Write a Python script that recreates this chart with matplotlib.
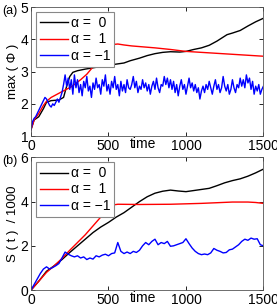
import matplotlib
matplotlib.use('Agg')
import matplotlib.pyplot as plt
import numpy as np

plt.rcParams['font.family'] = ['Liberation Sans', 'DejaVu Sans']
plt.rcParams['font.size'] = 10

# ---- panel (a): max(Phi) ----
t_a_black = [0, 20, 50, 80, 100, 130, 180, 210, 230, 250, 270, 300, 350, 400,
             500, 600, 640, 700, 750, 800, 850, 900, 960, 1000, 1050, 1100,
             1150, 1200, 1265, 1300, 1350, 1400, 1450, 1500]
a_black = [1.2, 1.5, 1.6, 1.85, 2.05, 2.1, 2.12, 2.2, 2.55, 2.85, 2.98, 3.03,
           3.08, 3.12, 3.2, 3.27, 3.34, 3.42, 3.5, 3.56, 3.6, 3.62, 3.61, 3.63,
           3.69, 3.74, 3.82, 3.95, 4.15, 4.2, 4.28, 4.42, 4.55, 4.66]

t_a_red = [0, 20, 50, 80, 100, 130, 200, 260, 320, 360, 400, 440, 480, 520,
           560, 600, 650, 700, 800, 900, 1000, 1100, 1200, 1300, 1400, 1500]
a_red = [1.2, 1.5, 1.7, 1.95, 2.08, 2.2, 2.38, 2.53, 2.75, 2.92, 3.15, 3.42,
         3.72, 3.84, 3.86, 3.83, 3.8, 3.78, 3.74, 3.69, 3.63, 3.6, 3.57, 3.54,
         3.51, 3.48]

t_a_blue = list(range(0, 1501, 10))
a_blue = [1.2, 1.45, 1.55, 1.6, 1.7, 1.8, 1.9, 2.0, 2.1, 2.2,
          2.15, 2.05, 1.95, 1.9, 2.0, 1.95, 2.05, 2.15, 2.05, 2.2,
          2.35, 2.6, 2.9, 2.55, 2.8, 2.45, 2.75, 2.3, 2.9, 2.5,
          2.75, 2.35, 2.6, 2.25, 2.7, 2.5, 2.85, 2.4, 2.55, 2.2,
          2.65, 2.45, 2.8, 2.5, 2.6, 2.3, 2.75, 2.55, 2.9, 2.4,
          2.6, 2.3, 2.7, 2.5, 2.85, 2.45, 2.6, 2.25, 2.7, 2.4,
          2.6, 2.35, 2.75, 2.5, 2.45, 2.6, 2.85, 2.5, 2.7, 2.35,
          2.55, 2.45, 2.75, 2.5, 2.65, 2.4, 2.6, 2.3, 2.55, 2.7,
          2.45, 2.8, 2.5, 2.35, 2.6, 2.55, 2.85, 2.6, 2.8, 2.5,
          2.75, 2.45, 2.7, 2.35, 2.6, 2.25, 2.55, 2.75, 2.45, 2.6,
          2.3, 2.55, 2.8, 2.5, 2.65, 2.4, 2.6, 2.35, 2.5, 2.15,
          2.4, 2.55, 2.35, 2.6, 2.45, 2.7, 2.5, 2.3, 2.55, 2.75,
          2.45, 2.6, 2.35, 2.5, 2.85, 2.55, 2.4, 2.6, 2.3, 2.45,
          2.75, 2.5, 2.35, 2.6, 2.5, 2.8, 2.55, 2.75, 2.5, 2.9,
          2.65, 2.8, 2.45, 2.7, 2.3, 2.55, 2.4, 2.6, 2.3, 2.45,
          2.55]

# ---- panel (b): S(t)/1000 ----
t_b_black = [0, 50, 100, 150, 200, 250, 300, 350, 400, 450, 500, 550, 600,
             650, 700, 750, 800, 850, 900, 950, 1000, 1050, 1100, 1150, 1200,
             1250, 1300, 1350, 1400, 1450, 1500]
b_black = [0.0, 0.4, 0.85, 1.1, 1.38, 1.7, 2.0, 2.3, 2.6, 2.85, 3.06, 3.3,
           3.5, 3.75, 4.0, 4.22, 4.38, 4.47, 4.52, 4.48, 4.45, 4.5, 4.55, 4.6,
           4.72, 4.85, 4.95, 5.03, 5.15, 5.3, 5.47]

t_b_red = [0, 50, 100, 150, 200, 250, 300, 350, 400, 450, 500, 530, 560, 700,
           900, 1000, 1100, 1200, 1300, 1400, 1450, 1500]
b_red = [0.0, 0.4, 0.8, 1.1, 1.43, 1.8, 2.15, 2.5, 2.9, 3.3, 3.7, 3.85, 3.88,
         3.87, 3.88, 3.9, 3.92, 3.95, 3.98, 3.98, 3.96, 3.92]

t_b_blue = list(range(0, 1501, 20))
b_blue = [0.0, 0.25, 0.5, 0.75, 0.95, 1.05, 0.95, 1.02, 1.1, 1.2,
          1.45, 1.72, 1.62, 1.55, 1.5, 1.55, 1.45, 1.5, 1.38, 1.45,
          1.4, 1.55, 1.5, 1.58, 1.62, 1.55, 1.65, 1.68, 2.15, 1.75,
          1.65, 1.72, 1.65, 1.75, 1.7, 1.8, 2.0, 2.15, 2.05, 2.2,
          2.3, 2.05, 2.15, 2.1, 2.2, 1.98, 2.0, 2.05, 2.1, 2.15,
          2.32, 2.1, 1.9, 1.75, 1.65, 1.6, 1.63, 1.6, 1.68, 1.88,
          1.8, 1.75, 1.68, 1.7, 1.82, 1.85, 1.95, 2.05, 2.2, 2.3,
          2.25, 2.35, 2.3, 2.32, 2.05, 2.0]

labels = ['α =  0', 'α =  1', 'α = −1']
xticks = [0, 500, 1000, 1500]

fig = plt.figure(figsize=(2.77, 3.05), dpi=100)
ax_a = fig.add_axes([0.112, 0.554, 0.839, 0.422])
ax_b = fig.add_axes([0.112, 0.049, 0.839, 0.435])

panels = [
    (ax_a, [(t_a_black, a_black), (t_a_red, a_red), (t_a_blue, a_blue)],
     (1, 5), [1, 2, 3, 4, 5], 'max ( Φ )', '(a)'),
    (ax_b, [(t_b_black, b_black), (t_b_red, b_red), (t_b_blue, b_blue)],
     (0, 6), [0, 2, 4, 6], 'S ( t )  / 1000', '(b)'),
]

for ax, series, ylim, yticks, ylabel, tag in panels:
    for (t, v), c, lab in zip(series, ['k', 'r', 'b'], labels):
        ax.plot(t, v, color=c, lw=1.0, label=lab)
    ax.set_xlim(0, 1500)
    ax.set_ylim(*ylim)
    ax.set_xticks(xticks)
    ax.set_yticks(yticks)
    ax.tick_params(direction='in', length=3, width=0.6, top=True, right=True,
                   labelsize=10, pad=2)
    for sp in ax.spines.values():
        sp.set_linewidth(0.6)
        sp.set_color('#555555')
    ax.set_ylabel(ylabel, fontsize=9.5, labelpad=1)
    ax.text(725, -0.01, 'time', transform=ax.get_xaxis_transform(),
            ha='center', va='top', fontsize=10)
    leg = ax.legend(loc='upper left', fontsize=10, handlelength=2.0,
                    handletextpad=0.2, borderpad=0.3, labelspacing=0.15,
                    borderaxespad=0.35, fancybox=False, framealpha=1)
    leg.get_frame().set_edgecolor('#888888')
    leg.get_frame().set_linewidth(0.8)
    pos = ax.get_position()
    fig.text(0.008, pos.y1 - 0.012, tag, fontsize=9, ha='left', va='center')

fig.savefig('out.png', dpi=100)
